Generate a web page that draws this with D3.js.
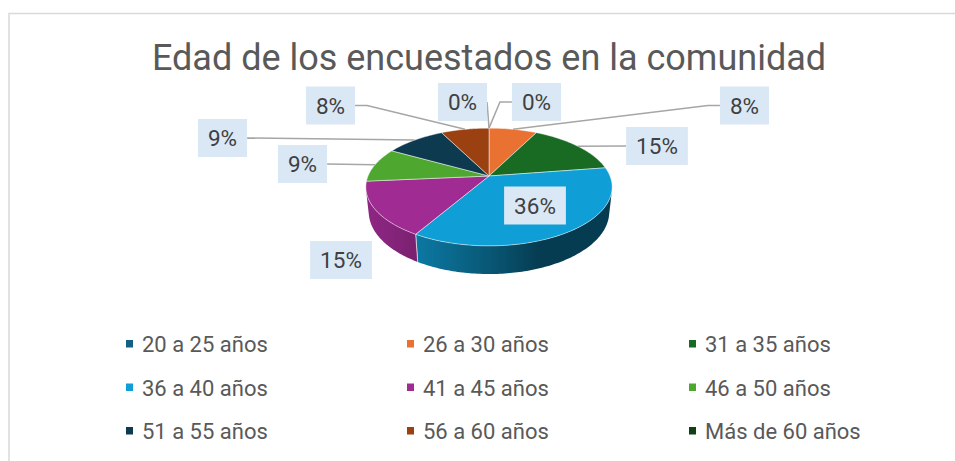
<!DOCTYPE html>
<html>
<head>
<meta charset="utf-8">
<script src="https://cdn.jsdelivr.net/npm/d3@7"></script>
<style>
  body { margin: 0; background: #fff; }
  text { font-family: Roboto, "Open Sans", sans-serif; }
</style>
</head>
<body>
<script>
// data
var categories = ["20 a 25 años", "26 a 30 años", "31 a 35 años",
                  "36 a 40 años", "41 a 45 años", "46 a 50 años",
                  "51 a 55 años", "56 a 60 años", "Más de 60 años"];
var counts = [0, 4, 8, 19, 8, 5, 5, 4, 0];
var colors = ["#156082", "#E97132", "#196B24", "#0F9ED5", "#A02B93",
              "#4EA72E", "#0D3A4E", "#9A4011", "#0F4016"];
var title = "Edad de los encuestados en la comunidad";

// label boxes placement (box centre, leader style)
var labelPos = [
  {x: 536.5, y: 102, leader: true, knee: true},
  {x: 744.5, y: 105.5, leader: true, knee: true},
  {x: 657, y: 146, leader: true, knee: false},
  {x: 535, y: 205.5, leader: false},
  {x: 341, y: 260, leader: false},
  {x: 302.5, y: 164, leader: true, knee: false},
  {x: 222.5, y: 138, leader: true, knee: false},
  {x: 330.5, y: 105.5, leader: true, knee: true},
  {x: 462.5, y: 102, leader: true, knee: false}
];

var width = 955, height = 461;
var svg = d3.select("body").append("svg")
  .attr("width", width)
  .attr("height", height);
var defs = svg.append("defs");

// chart frame
svg.append("rect")
  .attr("x", 9).attr("y", 13.5)
  .attr("width", 970).attr("height", 480)
  .attr("fill", "#fff")
  .attr("stroke", "#d9d9d9")
  .attr("stroke-width", 1.5);

svg.append("text")
  .attr("x", 489).attr("y", 70)
  .attr("text-anchor", "middle")
  .attr("font-size", "36px")
  .attr("fill", "#595959")
  .text(title);

// 3d perspective projection of the pie disc
var cx = 489, cy = 176, K = 571, D = 4.72, beta = 28 * Math.PI / 180;
var sinB = Math.sin(beta), cosB = Math.cos(beta);
var thick = 0.236;

function proj(a, r, y) {
  var x = r * Math.sin(a), z = -r * Math.cos(a);
  var w = D - z * cosB - y * sinB;
  return [cx + K * x / w, cy + K * (z * sinB - y * cosB) / w];
}

function steps(a0, a1) {
  var n = Math.max(2, Math.ceil((a1 - a0) / (Math.PI / 180)));
  return d3.range(n + 1).map(function(i) { return a0 + (a1 - a0) * i / n; });
}

var pie = d3.pie().sort(null).value(function(d) { return d; });
var arcs = pie(counts);
var total = d3.sum(counts);
var fmt = d3.format(".0%");
var line = d3.line();

// visible side of the cylinder
var k = 1 / (D * cosB);
var visA0 = Math.acos(-k), visA1 = 2 * Math.PI - visA0;

function shade(c, a) {
  var f = 0.38 + 0.5 * Math.max(0, Math.cos(a - 250 * Math.PI / 180));
  var col = d3.rgb(c);
  return d3.rgb(col.r * f, col.g * f, col.b * f).formatHex();
}

var sides = svg.append("g");
arcs.forEach(function(d, i) {
  var a0 = Math.max(d.startAngle, visA0), a1 = Math.min(d.endAngle, visA1);
  if (a1 <= a0) return;
  var as = steps(a0, a1);
  var top = as.map(function(a) { return proj(a, 1, 0); });
  var bot = as.map(function(a) { return proj(a, 1, -thick); }).reverse();
  var xs = top.map(function(p) { return p[0]; });
  var xMin = d3.min(xs), xMax = d3.max(xs);
  var g = defs.append("linearGradient")
    .attr("id", "side" + i)
    .attr("gradientUnits", "userSpaceOnUse")
    .attr("x1", xMin).attr("x2", xMax).attr("y1", 0).attr("y2", 0);
  as.map(function(a, j) { return {o: (xs[j] - xMin) / (xMax - xMin), a: a}; })
    .sort(function(p, q) { return p.o - q.o; })
    .forEach(function(s) {
      g.append("stop").attr("offset", s.o).attr("stop-color", shade(colors[i], s.a));
    });
  sides.append("path")
    .attr("d", line(top.concat(bot)) + "Z")
    .attr("fill", "url(#side" + i + ")");
  // seam at slice edges
  [d.startAngle, d.endAngle].forEach(function(a) {
    if (a > visA0 && a < visA1) {
      sides.append("path")
        .attr("d", line([proj(a, 1, 0), proj(a, 1, -thick)]))
        .attr("stroke", "rgba(255,255,255,0.55)")
        .attr("stroke-width", 1);
    }
  });
});

// top faces
svg.append("g").selectAll("path")
  .data(arcs.filter(function(d) { return d.value > 0; }))
  .enter().append("path")
  .attr("d", function(d) {
    var pts = [proj(0, 0, 0)].concat(steps(d.startAngle, d.endAngle).map(function(a) {
      return proj(a, 1, 0);
    }));
    return line(pts) + "Z";
  })
  .attr("fill", function(d) { return colors[d.index]; })
  .attr("stroke", "rgba(255,255,255,0.6)")
  .attr("stroke-width", 0.8)
  .attr("stroke-linejoin", "round");

// data labels
var labels = svg.append("g");
arcs.forEach(function(d, i) {
  var pos = labelPos[i];
  var t = labels.append("text")
    .attr("x", pos.x).attr("y", pos.y + 8)
    .attr("text-anchor", "middle")
    .attr("font-size", "22.5px")
    .attr("fill", "#404040")
    .text(fmt(d.value / total));
  var tw = t.node().getComputedTextLength();
  var bw = tw + 20, bh = 38;
  labels.insert("rect", "text")
    .attr("x", pos.x - bw / 2).attr("y", pos.y - bh / 2)
    .attr("width", bw).attr("height", bh)
    .attr("fill", "#dae8f6");
  if (pos.leader) {
    var anchor = proj((d.startAngle + d.endAngle) / 2, 1, 0);
    var side = pos.x > anchor[0] ? -1 : 1;
    var attach = [pos.x + side * bw / 2, pos.y];
    var pts = [anchor];
    if (pos.knee) pts.push([attach[0] + side * 12, attach[1]]);
    pts.push(attach);
    labels.insert("path", "rect")
      .attr("d", line(pts))
      .attr("fill", "none")
      .attr("stroke", "#a6a6a6")
      .attr("stroke-width", 1.5);
  }
});

// legend
var colX = [126, 407, 689], rowY = [352, 395.5, 439];
var legend = svg.append("g");
categories.forEach(function(c, i) {
  var x = colX[i % 3], y = rowY[Math.floor(i / 3)];
  legend.append("rect")
    .attr("x", x).attr("y", y - 12)
    .attr("width", 7).attr("height", 7.5)
    .attr("fill", colors[i]);
  legend.append("text")
    .attr("x", x + 16).attr("y", y)
    .attr("font-size", "22px")
    .attr("fill", "#595959")
    .text(c);
});
</script>
</body>
</html>
